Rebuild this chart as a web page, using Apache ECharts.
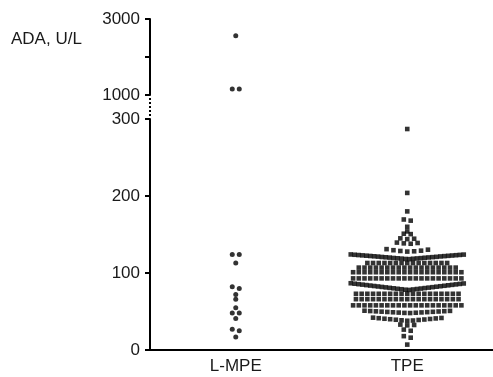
<!DOCTYPE html>
<html><head><meta charset="utf-8">
<script src="https://cdn.jsdelivr.net/npm/echarts@6/dist/echarts.min.js"></script>
<style>html,body{margin:0;padding:0;background:#fff}#c{width:493px;height:377px}</style>
</head><body><div id="c"></div>
<script>
// ---------------- data ----------------
const categories = ['L-MPE', 'TPE'];
const yLabel = 'ADA, U/L';
const lowerTicks = [0, 100, 200, 300];
const upperTicks = [1000, 2000, 3000];
const upperTickLabels = ['1000', '', '3000'];
const breakLow = 300, breakHigh = 1000;

const lmpeValues = [2560, 1160, 1160, 124, 124, 113, 82, 80, 72, 66, 55, 48, 48, 41, 27, 25, 17];

const tpeValues = [
  287, 204, 180, 168, 169.5, 160, 154, 150.5, 151, 144, 144.5, 145, 138, 138.5, 139, 139.5,
  127.8, 128.2, 128.6, 129, 129.6, 130.3, 131,
  118.0, 118.2, 118.5, 118.7, 118.9, 119.1, 119.3, 119.5, 119.8, 120.0, 120.2, 120.4, 120.6, 120.8, 121.0,
  121.3, 121.5, 121.7, 121.9, 122.1, 122.3, 122.5, 122.7, 122.9, 123.1, 123.3, 123.5, 123.7, 123.9, 124.1,
  113, 113, 113, 113, 113, 113, 113, 113, 113, 113, 113, 113, 113, 113, 113,
  107, 107, 107, 107, 107, 107, 107, 107, 107, 107, 107, 107, 107, 107, 107, 107, 107, 107,
  101, 101, 101, 101, 101, 101, 101, 101, 101, 101, 101, 101, 101, 101, 101, 101, 101, 101, 101, 101,
  93, 93, 93, 93, 93, 93, 93, 93, 93, 93, 93, 93, 93, 93, 93, 93, 93, 93, 93, 93,
  78.0, 78.3, 78.6, 78.9, 79.2, 79.5, 79.8, 80.1, 80.4, 80.7, 81.0, 81.3, 81.6, 81.9, 82.2,
  82.5, 82.8, 83.1, 83.4, 83.7, 84.0, 84.3, 84.6, 84.9, 85.2, 85.5, 85.8, 86.1, 86.4, 86.7,
  73, 73, 73, 73, 73, 73, 73, 73, 73, 73, 73, 73, 73, 73, 73, 73, 73, 73, 73,
  66, 66, 66, 66, 66, 66, 66, 66, 66, 66, 66, 66, 66, 66, 66, 66, 66, 66, 66,
  58, 58, 58, 58, 58, 58, 58, 58, 58, 58, 58, 58, 58, 58, 58, 58, 58, 58, 58, 58,
  48.0, 48.2, 48.4, 48.6, 48.8, 49.0, 49.2, 49.4, 49.6, 49.8, 50.0, 50.2, 50.4, 50.6, 50.8, 51.0,
  38.0, 38.3, 38.6, 39.0, 39.3, 39.6, 40.0, 40.3, 40.6, 41.0, 41.3, 41.6, 42.0,
  32, 32.5, 33, 25, 26.5, 16, 18, 7
];

// ---------------- layout ----------------
const W = 493, H = 377;
const GRID_LEFT = 150, GRID_RIGHT = 0;
const lowerGrid = { left: GRID_LEFT, right: GRID_RIGHT, top: 119, bottom: 27 };
const upperGrid = { left: GRID_LEFT, right: GRID_RIGHT, top: 19, bottom: 282 };
const pxPerX = (W - GRID_LEFT - GRID_RIGHT) / 2;
const lowerPxPerY = (H - lowerGrid.top - lowerGrid.bottom) / (breakLow - lowerTicks[0]);
const upperPxPerY = (H - upperGrid.top - upperGrid.bottom) / (upperTicks[upperTicks.length - 1] - breakHigh);
const FONT = '"Liberation Sans", Arial, Helvetica, sans-serif';

// column scatter: group close values into rows, spread rows horizontally from centre
function columnScatter(vals, center, pxPerY, spacing, maxWidth) {
  const sorted = vals.slice().sort((a, b) => a - b);
  const gap = 2 / pxPerY;
  const rows = [];
  let cur = [];
  sorted.forEach(v => {
    if (cur.length && v - cur[cur.length - 1] > gap) { rows.push(cur); cur = []; }
    cur.push(v);
  });
  if (cur.length) rows.push(cur);
  const out = [];
  rows.forEach(row => {
    const n = row.length;
    const base = n <= 7 ? spacing + 1.2 : spacing;
    const sp = n > 1 ? Math.min(base, maxWidth / (n - 1)) : 0;
    const slots = [];
    for (let i = 0; i < n; i++) slots.push((i - (n - 1) / 2) * sp);
    slots.sort((a, b) => (Math.abs(a) - Math.abs(b)) || (b - a));
    row.forEach((v, k) => out.push([center + slots[k] / pxPerX, v]));
  });
  return out;
}

const lmpeLow = lmpeValues.filter(v => v <= breakLow);
const lmpeHigh = lmpeValues.filter(v => v >= breakHigh);
const tpeLow = tpeValues.filter(v => v <= breakLow);
const tpeHigh = tpeValues.filter(v => v >= breakHigh);

const circleStyle = { symbol: 'circle', symbolSize: 5, itemStyle: { color: '#000' } };
const rectStyle = { symbol: 'rect', symbolSize: 4.6, itemStyle: { color: '#000' } };

const axisLineStyle = { color: '#000', width: 2 };
const labelStyle = { fontSize: 17, color: '#1a1a1a', fontFamily: FONT };

const chart = echarts.init(document.getElementById('c'), null, { renderer: 'canvas' });
chart.setOption({
  animation: false,
  backgroundColor: '#fff',
  grid: [lowerGrid, upperGrid],
  xAxis: [
    { type: 'category', gridIndex: 0, data: categories, boundaryGap: true,
      axisLine: { onZero: false, lineStyle: axisLineStyle },
      axisTick: { alignWithLabel: true, length: 5, lineStyle: axisLineStyle },
      axisLabel: Object.assign({ margin: 8 }, labelStyle), splitLine: { show: false } },
    { type: 'value', gridIndex: 0, min: 0.5, max: 2.5, show: false },
    { type: 'value', gridIndex: 1, min: 0.5, max: 2.5, show: false }
  ],
  yAxis: [
    { type: 'value', gridIndex: 0, min: lowerTicks[0], max: breakLow, interval: 100,
      axisLine: { show: true, onZero: false, lineStyle: axisLineStyle },
      axisTick: { show: true, length: 5, lineStyle: axisLineStyle },
      axisLabel: Object.assign({ margin: 10 }, labelStyle), splitLine: { show: false } },
    { type: 'value', gridIndex: 1, min: breakHigh, max: upperTicks[upperTicks.length - 1], interval: 1000,
      axisLine: { show: true, onZero: false, lineStyle: axisLineStyle },
      axisTick: { show: true, length: 5, lineStyle: axisLineStyle },
      axisLabel: Object.assign({ margin: 10, formatter: v => upperTickLabels[upperTicks.indexOf(v)] || '' }, labelStyle),
      splitLine: { show: false } }
  ],
  series: [
    Object.assign({ type: 'scatter', name: categories[0], xAxisIndex: 1, yAxisIndex: 0, silent: true,
      data: columnScatter(lmpeLow, 1, lowerPxPerY, 5.8, 113) }, circleStyle),
    Object.assign({ type: 'scatter', name: categories[0], xAxisIndex: 2, yAxisIndex: 1, silent: true,
      data: columnScatter(lmpeHigh, 1, upperPxPerY, 5.8, 113) }, circleStyle),
    Object.assign({ type: 'scatter', name: categories[1], xAxisIndex: 1, yAxisIndex: 0, silent: true,
      data: columnScatter(tpeLow, 2, lowerPxPerY, 5.7, 113) }, rectStyle),
    Object.assign({ type: 'scatter', name: categories[1], xAxisIndex: 2, yAxisIndex: 1, silent: true,
      data: columnScatter(tpeHigh, 2, upperPxPerY, 5.7, 113) }, rectStyle)
  ],
  graphic: [
    { type: 'text', left: 11, top: 31, silent: true,
      style: { text: yLabel, font: '17px ' + FONT, fill: '#1a1a1a' } },
    { type: 'line', silent: true,
      shape: { x1: GRID_LEFT, y1: H - upperGrid.bottom + 3, x2: GRID_LEFT, y2: lowerGrid.top - 3 },
      style: { stroke: '#000', lineWidth: 2, lineDash: [2, 2] } }
  ]
});
</script></body></html>
